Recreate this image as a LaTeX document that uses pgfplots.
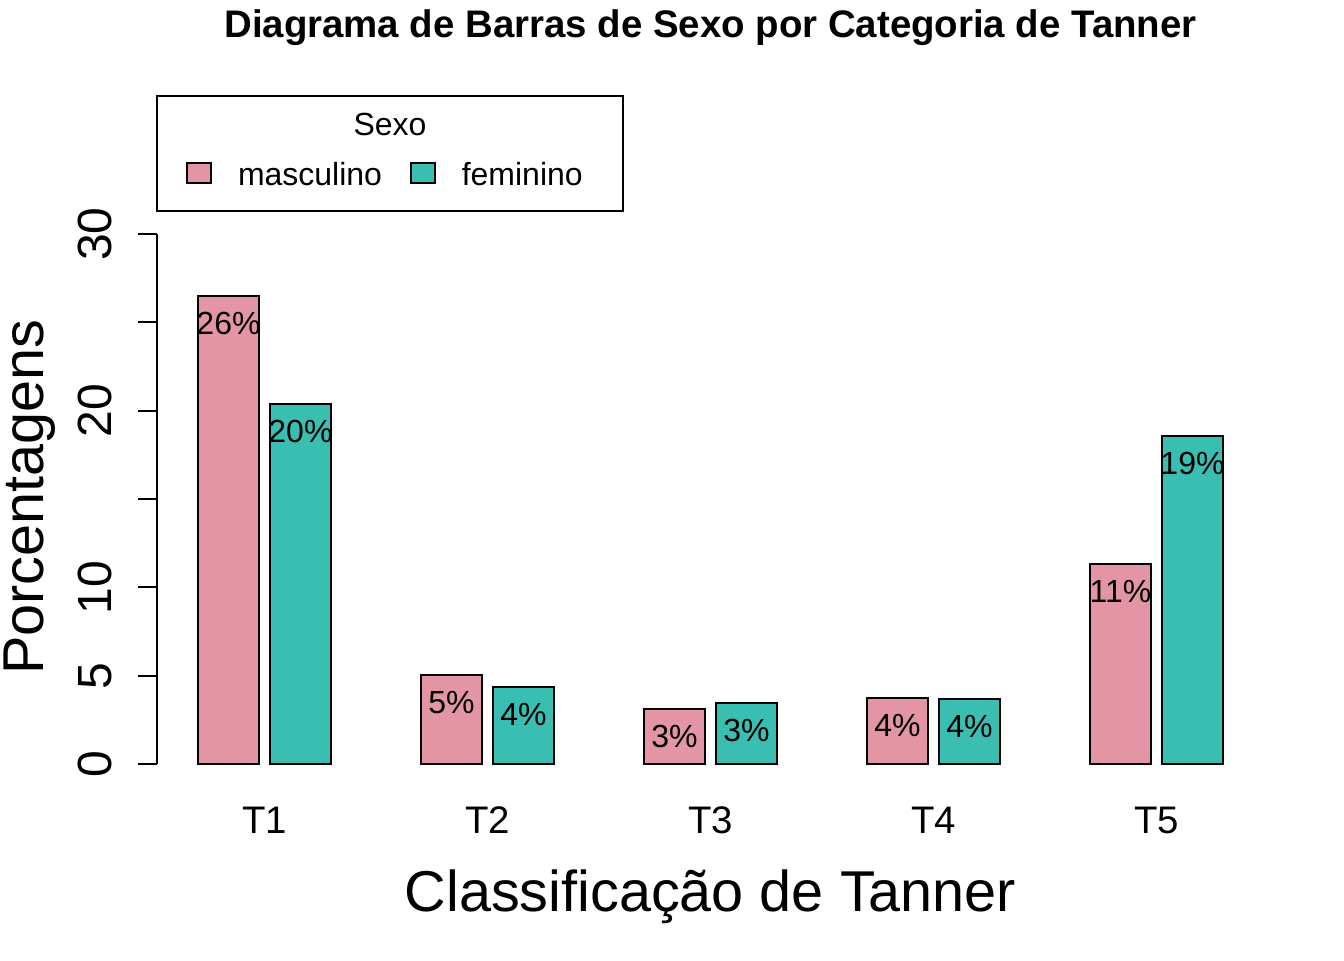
\documentclass[border=0pt]{standalone}
\usepackage{pgfplots}
\pgfplotsset{compat=1.18}
\usepackage{fontspec}
\setmainfont{Liberation Sans}

\definecolor{masc}{HTML}{E495A5}
\definecolor{femi}{HTML}{39BEB1}

\begin{document}
\begin{tikzpicture}
  \begin{axis}[
    at={(0,0)}, anchor=south west,
    scale only axis,
    width=415.125pt, height=198.75pt,
    xmin=0.518, xmax=5.482,
    ymin=0, ymax=30,
    clip=false,
    axis x line*=bottom,
    axis y line*=left,
    x axis line style={draw=none},
    y axis line style={-, line width=0.75pt},
    tick align=outside,
    major tick length=7.2pt,
    xtick={1,2,3,4,5},
    xticklabels={T1,T2,T3,T4,T5},
    xtick style={draw=none},
    xticklabel style={anchor=base, inner sep=0pt, font=\fontsize{14.4}{14.4}\selectfont},
    xticklabel shift=18.7pt,
    ytick={0,5,10,15,20,25,30},
    yticklabels={0,5,10,,20,,30},
    ytick style={line width=0.75pt, black},
    yticklabel style={rotate=90, anchor=base, inner sep=0pt, font=\fontsize{18}{18}\selectfont},
    yticklabel shift=9.7pt,
    ybar,
    bar width=0.2735,
    nodes near coords,
    point meta=explicit symbolic,
    nodes near coords style={anchor=base, yshift=-14.4pt, inner sep=0pt, font=\fontsize{12}{12}\selectfont, black},
    legend columns=2,
    legend image code/.code={\draw[#1, line width=0.75pt] (0pt,-2.6pt) rectangle (9pt,4.9pt);},
    legend style={draw=none, fill=none, at={(axis description cs:0.0262,1.1105)}, anchor=west,
      inner sep=0pt, outer sep=0pt,
      nodes={inner sep=0pt, font=\fontsize{12}{12}\selectfont},
      /tikz/every odd column/.append style={column sep=9.75pt},
      /tikz/every even column/.append style={column sep=10.4pt}},
  ]
    \addplot[fill=masc, draw=black, line width=0.75pt, bar shift=-0.1614] coordinates {
      (1,26.51) [26\%] (2,5.04) [5\%] (3,3.10) [3\%] (4,3.72) [4\%] (5,11.30) [11\%]};
    \addplot[fill=femi, draw=black, line width=0.75pt, bar shift=0.1614] coordinates {
      (1,20.38) [20\%] (2,4.38) [4\%] (3,3.47) [3\%] (4,3.66) [4\%] (5,18.58) [19\%]};
    \legend{masculino, feminino}
  \end{axis}
  \begin{scope}[x=0.375pt, y=-0.375pt, shift={(-157,-764)}]
    \draw[line width=0.75pt] (157,96) rectangle (623,211);
    \node[anchor=base, inner sep=0pt, font=\fontsize{12}{12}\selectfont] at (390,135) {Sexo};
    \node[anchor=base, inner sep=0pt, font=\fontsize{14.4}{14.4}\selectfont\bfseries] at (710.5,37)
      {Diagrama de Barras de Sexo por Categoria de Tanner};
    \node[anchor=base, inner sep=0pt, font=\fontsize{21.6}{21.6}\selectfont] at (710.5,911)
      {Classificação de Tanner};
    \node[anchor=base, rotate=90, inner sep=0pt, font=\fontsize{21.6}{21.6}\selectfont] at (43,497)
      {Porcentagens};
    \pgfresetboundingbox
    \path (0,0) rectangle (1344,960);
  \end{scope}
\end{tikzpicture}
\end{document}
